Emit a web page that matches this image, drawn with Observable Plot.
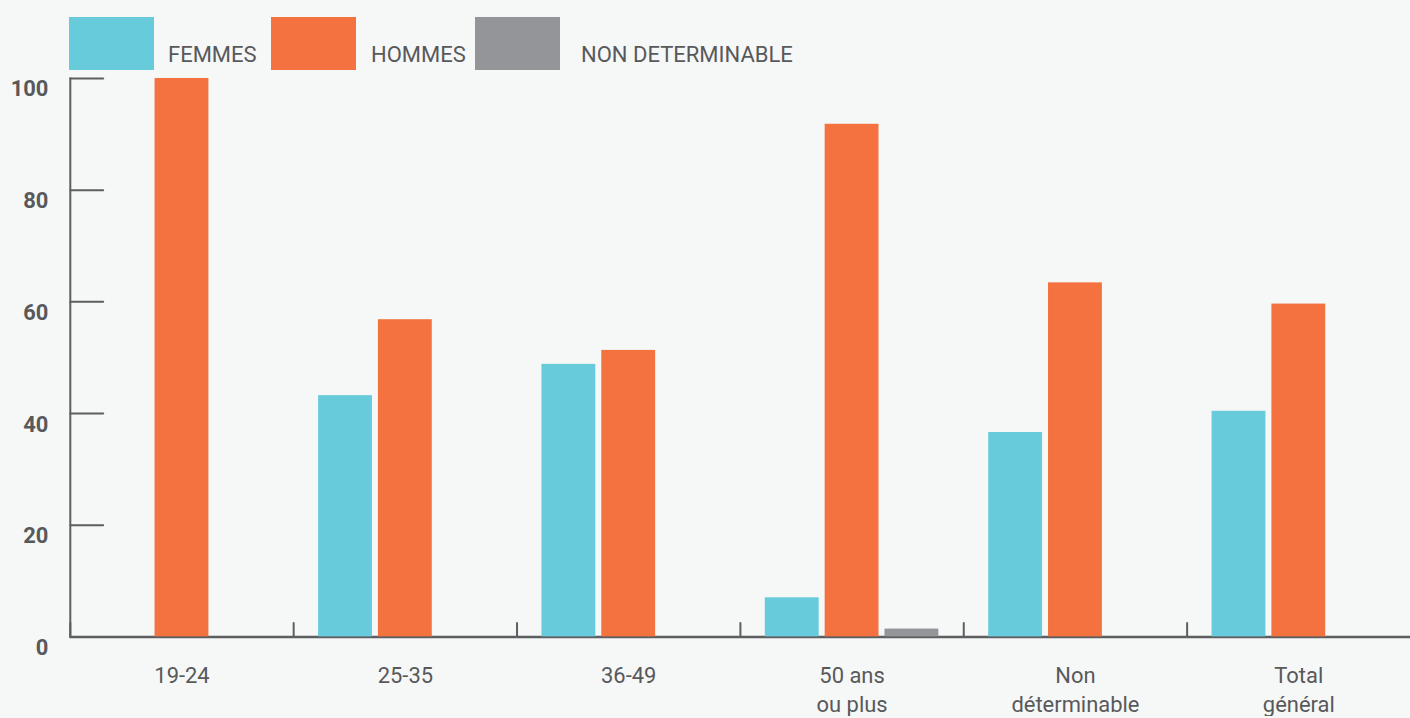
<!DOCTYPE html>
<html>
<head>
<meta charset="utf-8">
<script src="https://cdn.jsdelivr.net/npm/d3@7"></script>
<script src="https://cdn.jsdelivr.net/npm/@observablehq/plot@0.6"></script>
<style>
  html, body { margin: 0; padding: 0; background: #f6f7f7; overflow: hidden; }
  body { font-family: Roboto, "DejaVu Sans", sans-serif; color: #58595b; }
  #legend { position: relative; height: 72px; width: 1410px; }
  #legend .sw { position: absolute; top: 17px; width: 85px; height: 53px; }
  #legend .lb { position: absolute; top: 44px; font-size: 22px; line-height: 22px; white-space: nowrap; color: #58595b; }
  #chart svg { display: block; }
</style>
</head>
<body>
<div id="legend"></div>
<div id="chart"></div>
<script>
// ---- data ----
const groups = ["19-24", "25-35", "36-49", "50 ans\nou plus", "Non\ndéterminable", "Total\ngénéral"];
const series = ["FEMMES", "HOMMES", "NON DETERMINABLE"];
const femmes = [0, 43.2, 48.8, 7.0, 36.6, 40.4];
const hommes = [100, 56.8, 51.3, 91.8, 63.4, 59.6];
const nonDeterminable = [0, 0, 0, 1.4, 0, 0];
const yTicks = [0, 20, 40, 60, 80, 100];
const colors = ["#67cbdb", "#f3723f", "#939598"];

const valuesBySeries = [femmes, hommes, nonDeterminable];
const data = groups.flatMap((g, i) =>
  series.map((s, j) => ({group: g, serie: s, value: valuesBySeries[j][i]}))
);

// ---- legend (HTML, above the SVG) ----
const swatchLeft = [69, 271, 475];
const labelLeft = [168, 371, 581];
const legend = document.getElementById("legend");
series.forEach((s, j) => {
  const sw = document.createElement("div");
  sw.className = "sw";
  sw.style.left = swatchLeft[j] + "px";
  sw.style.background = colors[j];
  legend.appendChild(sw);
  const lb = document.createElement("div");
  lb.className = "lb";
  lb.style.left = labelLeft[j] + "px";
  lb.textContent = s;
  legend.appendChild(lb);
});

// ---- chart ----
const axisColor = "#5d5e60";
const tickShapeRight = {draw(ctx, l) { ctx.moveTo(0, 0); ctx.lineTo(l, 0); }};
const tickShapeUp = {draw(ctx, l) { ctx.moveTo(0, 0); ctx.lineTo(0, -l); }};

const chart = Plot.plot({
  width: 1414,
  height: 646,
  marginTop: 6,
  marginBottom: 80,
  marginLeft: 70,
  marginRight: 0,
  style: {background: "transparent", fontFamily: "Roboto, 'DejaVu Sans', sans-serif", color: "#58595b"},
  fx: {domain: groups, padding: 0, axis: null},
  x: {domain: series, paddingInner: 0.1, paddingOuter: 25 / 60, axis: null},
  y: {domain: [0, 100], axis: null},
  color: {domain: series, range: colors},
  marks: [
    // y axis line (left facet only)
    Plot.frame({anchor: "left", facetAnchor: "left", stroke: axisColor, strokeWidth: 2}),
    // inward y ticks
    Plot.vector(yTicks.filter(d => d > 0), {
      y: d => d, frameAnchor: "left", rotate: 0, length: 33, anchor: "start",
      shape: tickShapeRight, stroke: axisColor, strokeWidth: 2, facetAnchor: "left"
    }),
    // y labels
    Plot.axisY({
      ticks: yTicks, tickSize: 0, tickPadding: 22, dy: 11, fontSize: 22,
      fontWeight: "bold", fill: "#58595b", label: null
    }),
    // baseline
    Plot.ruleY([0], {stroke: axisColor, strokeWidth: 2.5}),
    // x group separator ticks
    Plot.vector([0], {
      frameAnchor: "bottom-left", length: 14, anchor: "start", rotate: 0,
      shape: tickShapeUp, stroke: axisColor, strokeWidth: 2
    }),
    // bars
    Plot.barY(data, {fx: "group", x: "serie", y: "value", fill: "serie"}),
    // x labels
    Plot.axisFx({
      anchor: "bottom", tickSize: 0, tickPadding: 26, fontSize: 22, lineHeight: 29 / 22,
      fill: "#58595b", label: null
    })
  ]
});
document.getElementById("chart").appendChild(chart);
</script>
</body>
</html>
